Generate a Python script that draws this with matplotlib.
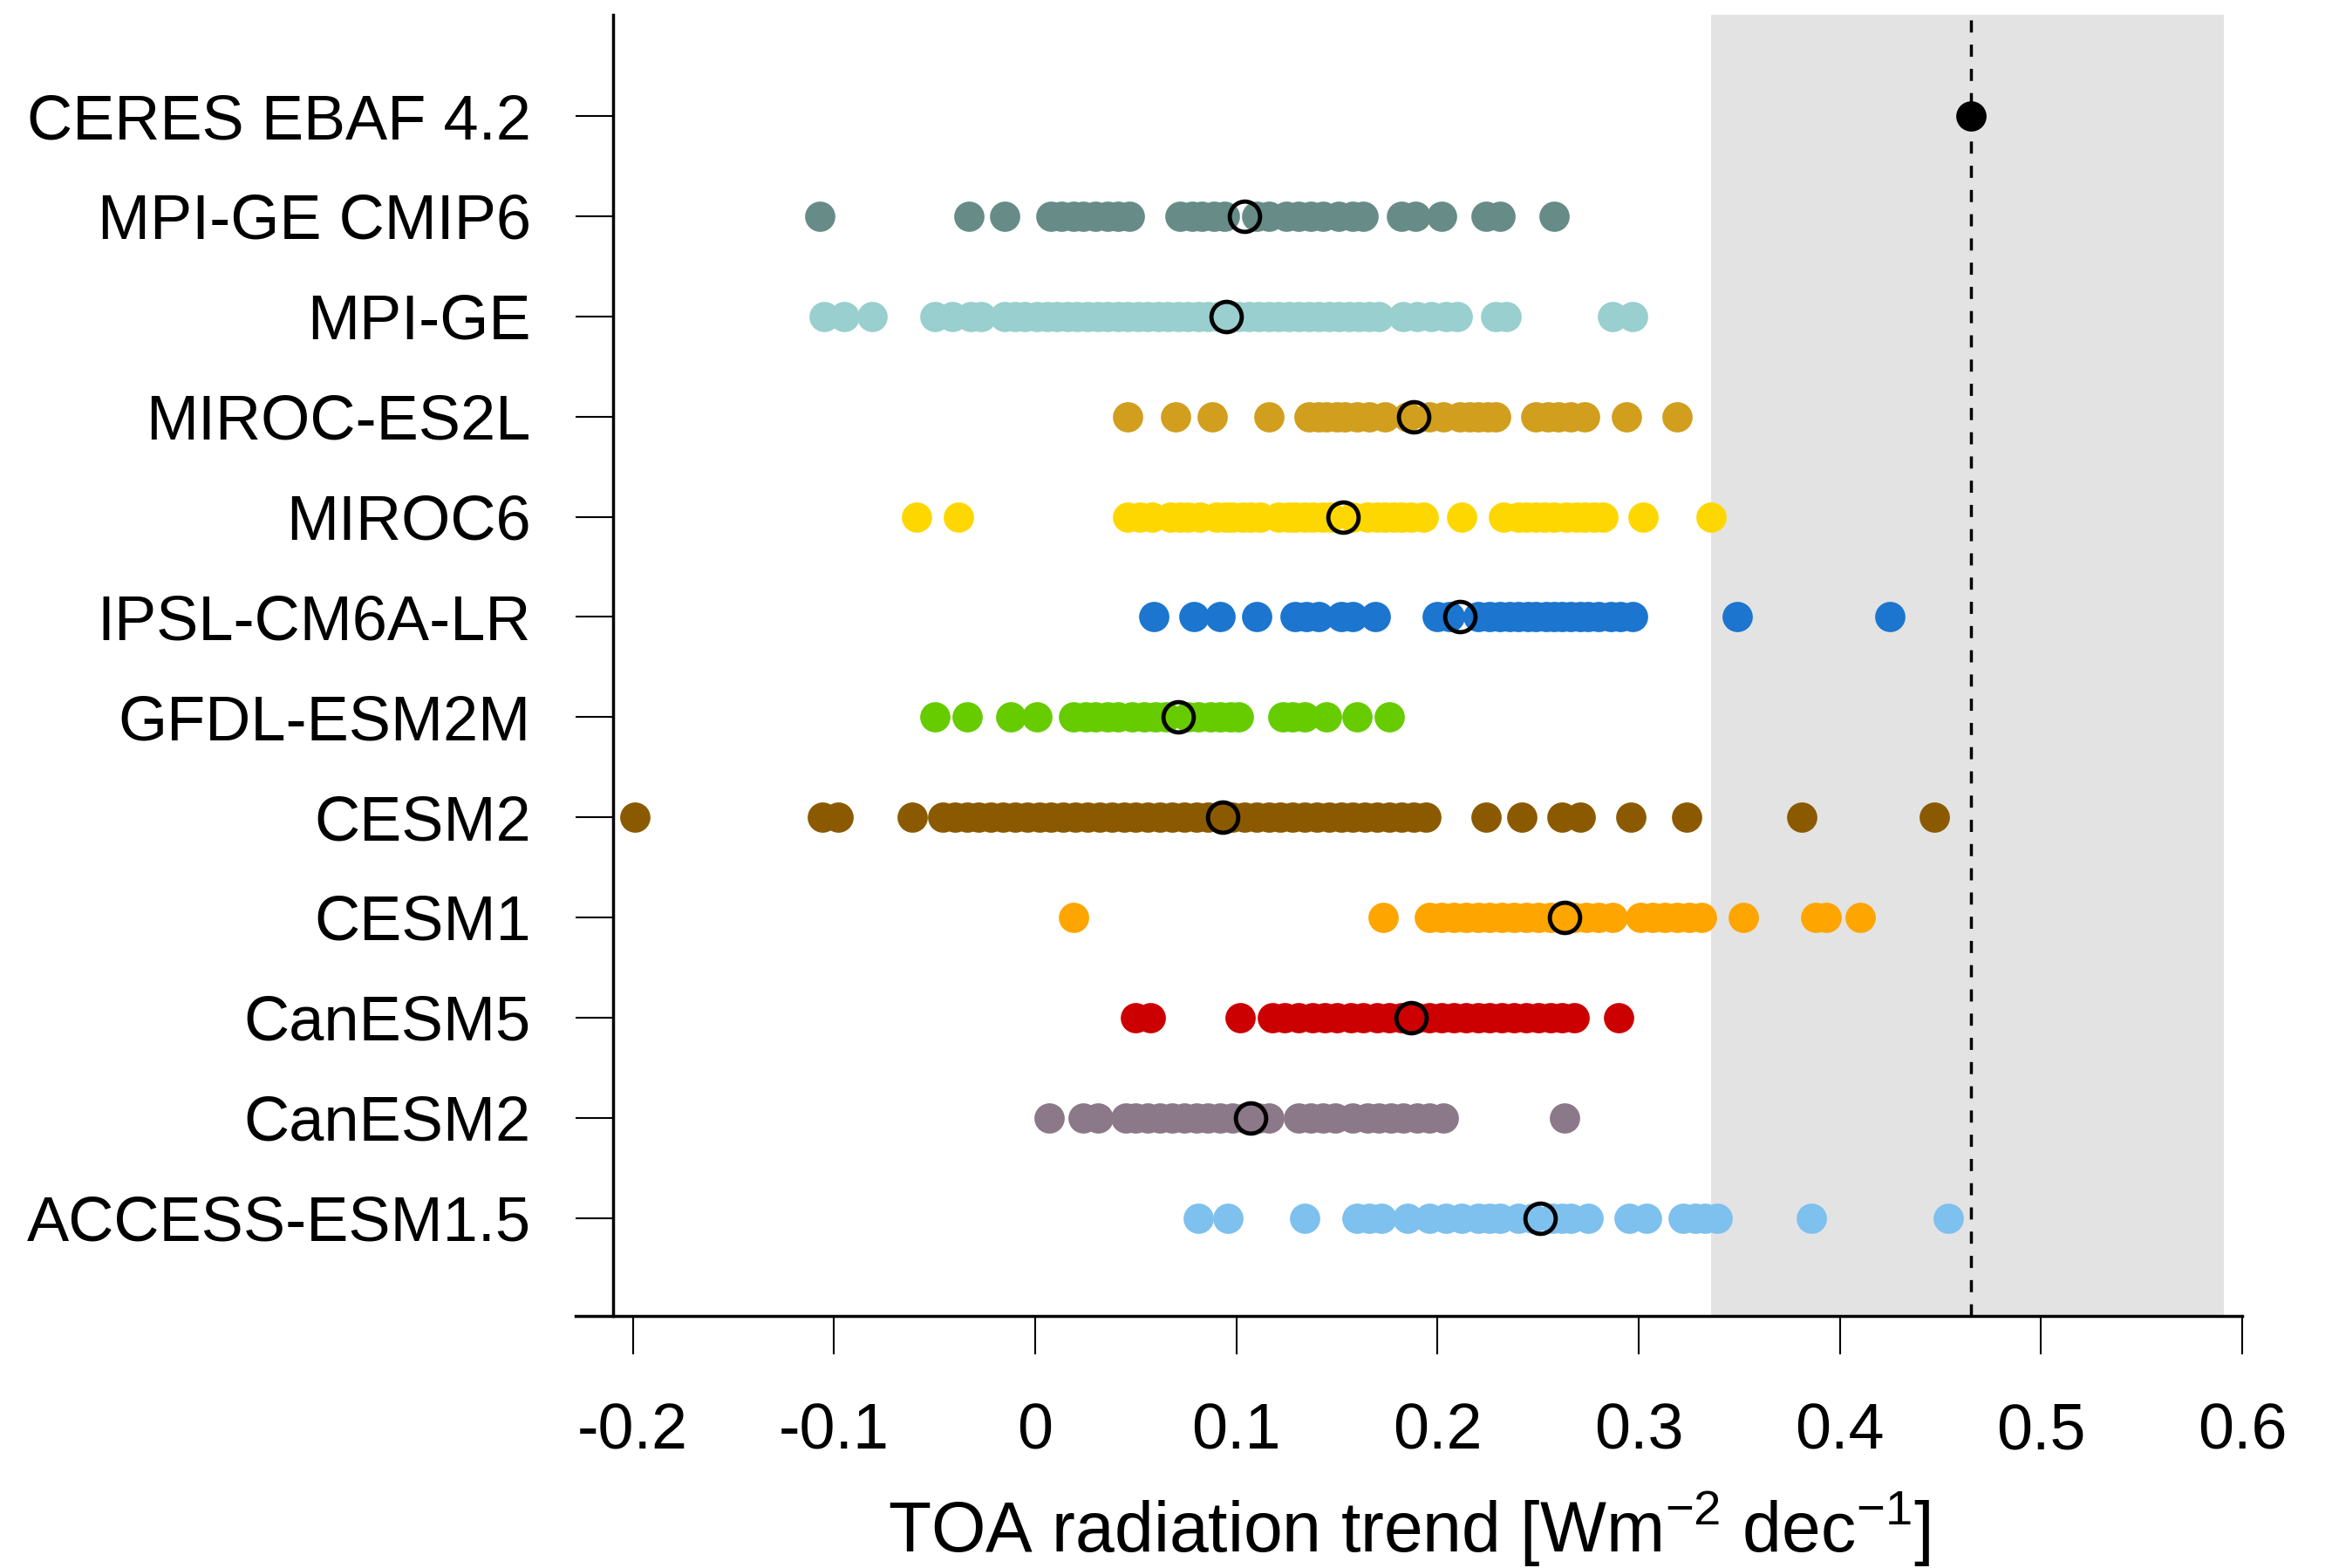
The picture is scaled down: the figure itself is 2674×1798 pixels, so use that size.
import numpy as np
import matplotlib
matplotlib.use("Agg")
import matplotlib.pyplot as plt

plt.rcParams['font.family'] = ['Liberation Sans', 'DejaVu Sans']
plt.rcParams['mathtext.fontset'] = 'custom'
plt.rcParams['mathtext.rm'] = 'Liberation Sans'
plt.rcParams['mathtext.default'] = 'regular'

# rows from bottom to top
models = ["ACCESS-ESM1.5", "CanESM2", "CanESM5", "CESM1", "CESM2", "GFDL-ESM2M",
          "IPSL-CM6A-LR", "MIROC6", "MIROC-ES2L", "MPI-GE", "MPI-GE CMIP6"]
colors = ["#7EC0EE", "#8B7888", "#CC0000", "#FFA500", "#8B5A00", "#66CC00",
          "#1C75CE", "#FFD700", "#D19E1E", "#99CFCE", "#678C88"]

access = [0.081, 0.096, 0.134, 0.160, 0.166, 0.172, 0.185, 0.196, 0.204, 0.212, 0.220,
          0.226, 0.231, 0.240, 0.247, 0.257, 0.262, 0.266, 0.275, 0.295, 0.304, 0.322,
          0.328, 0.333, 0.339, 0.386, 0.454]
canesm2 = [0.007, 0.024, 0.031, 0.045, 0.050, 0.056, 0.062, 0.068, 0.074, 0.080, 0.086,
           0.092, 0.098, 0.104, 0.111, 0.116, 0.131, 0.137, 0.143, 0.149, 0.158, 0.165,
           0.171, 0.177, 0.183, 0.190, 0.196, 0.203, 0.263]
canesm5 = [0.050, 0.057, 0.102, 0.118, 0.124, 0.131, 0.138, 0.144, 0.150, 0.157, 0.163,
           0.170, 0.176, 0.182, 0.190, 0.196, 0.202, 0.208, 0.214, 0.220, 0.226, 0.232,
           0.238, 0.244, 0.250, 0.256, 0.262, 0.268, 0.290]
cesm1 = [0.019, 0.173, 0.196, 0.202, 0.208, 0.214, 0.220, 0.226, 0.232, 0.238, 0.244,
         0.250, 0.256, 0.262, 0.268, 0.274, 0.280, 0.287, 0.301, 0.307, 0.313, 0.319,
         0.325, 0.331, 0.352, 0.388, 0.393, 0.410]
cesm2 = [-0.199, -0.106, -0.098, -0.061, -0.046, -0.040, -0.034, -0.028, -0.022, -0.016,
         -0.010, -0.004, 0.002, 0.008, 0.014, 0.020, 0.026, 0.032, 0.038, 0.044, 0.050,
         0.056, 0.062, 0.068, 0.074, 0.080, 0.086, 0.092, 0.098, 0.104, 0.110, 0.116,
         0.122, 0.128, 0.134, 0.140, 0.146, 0.152, 0.158, 0.164, 0.170, 0.176, 0.182,
         0.188, 0.194, 0.224, 0.242, 0.262, 0.271, 0.296, 0.324, 0.381, 0.447]
gfdl = [-0.050, -0.034, -0.012, 0.001, 0.019, 0.025, 0.030, 0.036, 0.041, 0.048, 0.054,
        0.060, 0.065, 0.076, 0.081, 0.087, 0.092, 0.097, 0.101, 0.123, 0.128, 0.134,
        0.145, 0.160, 0.176]
ipsl = [0.059, 0.079, 0.092, 0.110, 0.129, 0.135, 0.141, 0.152, 0.158, 0.169, 0.200,
        0.206, 0.220, 0.226, 0.231, 0.236, 0.240, 0.245, 0.249, 0.254, 0.258, 0.262,
        0.266, 0.271, 0.275, 0.280, 0.286, 0.291, 0.297, 0.349, 0.425]
miroc6 = [-0.059, -0.038, 0.046, 0.052, 0.058, 0.067, 0.072, 0.076, 0.082, 0.090, 0.095,
          0.098, 0.103, 0.107, 0.112, 0.121, 0.126, 0.129, 0.134, 0.138, 0.143, 0.147,
          0.158, 0.165, 0.170, 0.174, 0.178, 0.182, 0.187, 0.193, 0.212, 0.233, 0.240,
          0.244, 0.249, 0.253, 0.258, 0.264, 0.269, 0.273, 0.278, 0.282, 0.302, 0.336]
miroc_es2l = [0.046, 0.070, 0.088, 0.116, 0.136, 0.141, 0.145, 0.150, 0.154, 0.160,
              0.166, 0.174, 0.185, 0.196, 0.203, 0.211, 0.216, 0.220, 0.225, 0.229,
              0.249, 0.255, 0.260, 0.266, 0.273, 0.294, 0.319]
mpi_ge = [-0.105, -0.095, -0.081, -0.050, -0.041, -0.032, -0.027, -0.015, -0.010, -0.005,
          0.001, 0.006, 0.011, 0.016, 0.021, 0.026, 0.031, 0.036, 0.041, 0.046, 0.051,
          0.056, 0.061, 0.066, 0.071, 0.076, 0.081, 0.086, 0.091, 0.096, 0.101, 0.106,
          0.111, 0.116, 0.121, 0.126, 0.131, 0.136, 0.141, 0.146, 0.151, 0.156, 0.161,
          0.166, 0.171, 0.183, 0.190, 0.197, 0.204, 0.210, 0.229, 0.234, 0.287, 0.297]
mpi_cmip6 = [-0.107, -0.033, -0.015, 0.008, 0.013, 0.019, 0.024, 0.030, 0.036, 0.041,
             0.047, 0.072, 0.078, 0.083, 0.089, 0.094, 0.110, 0.116, 0.125, 0.131, 0.137,
             0.143, 0.151, 0.158, 0.163, 0.182, 0.189, 0.202, 0.224, 0.231, 0.258]
members = [access, canesm2, canesm5, cesm1, cesm2, gfdl, ipsl, miroc6,
           miroc_es2l, mpi_ge, mpi_cmip6]
ens_mean = [0.251, 0.107, 0.187, 0.263, 0.093, 0.071, 0.211, 0.153, 0.188, 0.095, 0.104]

obs_name = "CERES EBAF 4.2"
obs_trend = 0.465
obs_range = [0.336, 0.591]

fig = plt.figure(figsize=(26.74, 17.98), dpi=100)
ax = fig.add_axes([0.2468, 0.1607, 0.7147, 0.8298])

# observational uncertainty band
ax.axvspan(obs_range[0], obs_range[1], color="#E3E3E3", lw=0, zorder=0)

for i, (vals, col, m) in enumerate(zip(members, colors, ens_mean)):
    y = i + 1
    ax.plot(vals, np.full(len(vals), y), 'o', ms=25, color=col, mec='none', zorder=2)
    ax.plot([m], [y], 'o', ms=25, mfc='none', mec='black', mew=3.5, zorder=4)

n = len(models) + 1
ax.plot([obs_trend], [n], 'o', ms=25, color='black', mec='none', zorder=4)
ax.axvline(obs_trend, color='black', lw=2.5, dashes=(4, 4), zorder=3)

ax.set_xlim(-0.2285, 0.6)
ax.set_ylim(0.02, 13.01)
ax.set_yticks(range(1, n + 1))
ax.set_yticklabels(models + [obs_name])
ax.set_xticks(np.arange(-0.2, 0.61, 0.1))
ax.set_xticklabels(["-0.2", "-0.1", "0", "0.1", "0.2", "0.3", "0.4", "0.5", "0.6"])

ax.spines['top'].set_visible(False)
ax.spines['right'].set_visible(False)
ax.spines['left'].set_position(('data', -0.2098))
ax.spines['left'].set_linewidth(2.5)
ax.spines['bottom'].set_linewidth(2.5)

ax.tick_params(axis='y', length=31, width=1.5, pad=37, labelsize=52)
ax.tick_params(axis='x', length=32, width=1.5, pad=39, labelsize=53)

ax.set_xlabel("TOA radiation trend [Wm$^{-2}$ dec$^{-1}$]", fontsize=58, labelpad=22)

fig.savefig("out.png", dpi=100)
